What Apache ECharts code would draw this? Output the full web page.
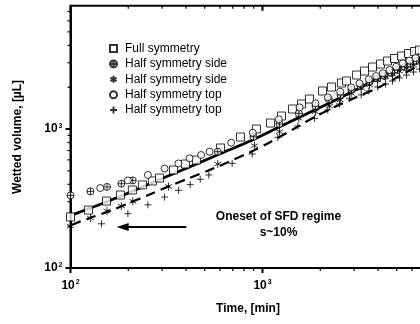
<!DOCTYPE html>
<html><head><meta charset="utf-8">
<script src="https://cdn.jsdelivr.net/npm/echarts@6/dist/echarts.min.js"></script>
<style>html,body{margin:0;padding:0;background:#fff}#c{width:420px;height:324px}</style>
</head><body><div id="c"></div>
<script>
// ---- data (time in min, volume in µL) ----
const fullTime = [100,124,154,182,210,237,267,291,344,397,453,604,768,930,1101,1256,1433,1596,1757,2054,2287,2578,2739,3090,3398,3741,4118,4477,4870,5297,5761,6190,6574];
const fullVol  = [233,261,303,335,364,396,423,444,507,560,598,730,876,1000,1104,1240,1393,1513,1644,1877,2005,2143,2215,2445,2613,2792,2935,3085,3216,3350,3493,3612,3700];

const sideCircTime = [100,127,155,184,211,585,898,1226,1546,1888,2215,2548,2907,3238,3608,3971,4318,4697,5048,5495,5900,6340];
const sideCircVol  = [333,356,383,404,427,687,880,1087,1297,1464,1636,1757,1909,2039,2178,2307,2405,2529,2657,2792,2935,3085];

const sideStarTime = [100,127,155,184,211,324,585,909,1226,1546,1888,2233,2540,2897,3266,3608,3986,4372,4753,5170,5623,6112,6574];
const sideStarVol  = [200,229,257,279,302,386,560,759,957,1194,1332,1464,1617,1806,1963,2073,2252,2366,2487,2613,2746,2886,3034];

const topCircTime = [143,199,253,309,365,417,479,530,687,890,1216,1559,1888,2188,2540,2897,3200,3580,3909,4234,4585,4970,5380,5830,6265];
const topCircVol  = [376,427,467,520,565,615,650,687,797,940,1174,1432,1531,1690,1855,1995,2132,2279,2405,2517,2657,2806,2969,3111,3243];

const topPlusTime = [145,199,253,309,365,420,474,525,695,884,1202,1527,1866,2188,2518,2838,3266,3580,3971,4372,4753,5170,5623,6112,6574];
const topPlusVol  = [208,246,285,324,362,398,435,467,566,661,871,1051,1194,1370,1513,1663,1757,1877,2005,2108,2215,2330,2445,2570,2700];

const solidTime = [104,142,203,291,417,597,887,1383,2233,3200,4585,6574,7000];
const solidVol  = [243,286,349,433,533,661,833,1123,1538,1972,2570,3243,3380];

const dashTime = [101,126,160,203,258,328,417,530,673,856,1088,1468,1866,2371,3013,4064,5170,6574,7000];
const dashVol  = [204,229,257,294,338,389,444,507,584,678,800,1008,1220,1439,1671,2005,2405,2886,3034];

const seriesNames = ['Full symmetry','Half symmetry side','Half symmetry side ','Half symmetry top','Half symmetry top '];
const arrowFrom = [401,197], arrowTo = [187,197];

const X_MIN = 100, X_MAX = 10000, Y_MIN = 100, Y_MAX = 7700;
const xMajorTicks = [100,1000,10000];
const xMinorTicks = [200,300,400,500,600,700,800,900,2000,3000,4000,5000,6000,7000,8000,9000];
const yMajorTicks = [100,1000];
const yMinorTicks = [200,300,400,500,600,700,800,900,2000,3000,4000,5000,6000,7000];

const zip = (a,b) => a.map((v,i)=>[v,b[i]]);
const FONT = 'Liberation Sans, Arial, sans-serif';

const tickData = [];
xMajorTicks.forEach(v=>tickData.push([v,Y_MIN,0,1]));
xMinorTicks.forEach(v=>tickData.push([v,Y_MIN,0,0]));
yMajorTicks.forEach(v=>tickData.push([X_MIN,v,1,1]));
yMinorTicks.forEach(v=>tickData.push([X_MIN,v,1,0]));

const expLabel = v => {
  const e = Math.log10(v);
  if (Math.abs(e - Math.round(e)) > 1e-6) return '';
  return '{a|10}{b|' + Math.round(e) + '}';
};
const richLab = {
  a:{fontSize:12,fontWeight:'bold',fontFamily:FONT,color:'#000'},
  b:{fontSize:7,fontWeight:'bold',fontFamily:FONT,color:'#000',verticalAlign:'top',padding:[0,0,6,1]}
};

const symPlusCirc = 'path://M5,0A5,5,0,1,1,4.999,0ZM0,5L10,5M5,0L5,10';
const symStar = 'path://M5,0L5,10M0.67,2.5L9.33,7.5M0.67,7.5L9.33,2.5';
const symPlus = 'path://M5,0L5,10M0,5L10,5';

const mk = (name, x, y, symbol, size, extra) => Object.assign({
  name, type:'scatter', data: zip(x,y), symbol, symbolSize:size, z:5,
  itemStyle:{color:'#fff', borderColor:'#000', borderWidth:1}
}, extra||{});

const chart = echarts.init(document.getElementById('c'), null, {renderer:'canvas'});
chart.setOption({
  animation:false,
  backgroundColor:'#fff',
  textStyle:{fontFamily:FONT},
  grid:{left:70.5, top:5.8, width:384, height:262.2, outerBoundsMode:'none', containLabel:false,
        show:true, borderColor:'#000', borderWidth:2, backgroundColor:'transparent'},
  legend:{
    orient:'vertical', left:104, top:37.5, itemWidth:7, itemHeight:7, itemGap:3.4,
    data: seriesNames, formatter: n => n.trim(),
    textStyle:{fontSize:12, fontFamily:FONT, color:'#000', lineHeight:12, padding:[0,0,0,3]}
  },
  xAxis:{
    type:'log', logBase:10, min:X_MIN, max:X_MAX,
    axisLine:{lineStyle:{color:'#000', width:2}},
    axisTick:{show:false}, splitLine:{show:false}, minorTick:{show:false},
    axisLabel:{formatter: expLabel, rich: richLab, margin:11, showMaxLabel:false},
    name:'Time, [min]', nameLocation:'middle', nameGap:35,
    nameTextStyle:{fontSize:12, fontWeight:'bold', fontFamily:FONT, color:'#000', padding:[0,29,0,0]}
  },
  yAxis:{
    type:'log', logBase:10, min:Y_MIN, max:Y_MAX,
    axisLine:{lineStyle:{color:'#000', width:2}},
    axisTick:{show:false}, splitLine:{show:false}, minorTick:{show:false},
    axisLabel:{formatter: expLabel, rich: richLab, margin:8},
    name:'Wetted volume, [µL]', nameLocation:'middle', nameGap:47,
    nameTextStyle:{fontSize:12, fontWeight:'bold', fontFamily:FONT, color:'#000'}
  },
  graphic:[{
    type:'text', x:278.5, y:209, z:10,
    style:{text:'Oneset of SFD regime\ns~10%', font:'bold 12px '+FONT, fill:'#000', textAlign:'center', textVerticalAlign:'top', lineHeight:16}
  }],
  series:[
    {name:'fit', type:'line', data:zip(solidTime,solidVol), symbol:'none', smooth:0.3, z:3,
     lineStyle:{color:'#000', width:2.8},
     markLine:{silent:true, symbol:['none','path://M0,10L5,0L10,10Z'], symbolSize:[8,12], label:{show:false},
       lineStyle:{color:'#000', width:2, type:'solid'},
       data:[[{coord:arrowFrom},{coord:arrowTo}]]}},
    {name:'fit2', type:'line', data:zip(dashTime,dashVol), symbol:'none', smooth:0.3, z:3,
     lineStyle:{color:'#000', width:2.2, type:[10,6]}},
    mk(seriesNames[0], fullTime, fullVol, 'rect', 8),
    mk(seriesNames[1], sideCircTime, sideCircVol, symPlusCirc, 7),
    mk(seriesNames[2], sideStarTime, sideStarVol, symStar, 8, {symbolKeepAspect:true}),
    mk(seriesNames[3], topCircTime, topCircVol, 'circle', 7),
    mk(seriesNames[4], topPlusTime, topPlusVol, symPlus, 7),
    {name:'ticks', type:'custom', data:tickData, clip:false, z:10, silent:true,
     encode:{x:0, y:1},
     renderItem:(params, api) => {
       const isY = api.value(2), major = api.value(3);
       const len = major ? 5 : 3, lw = major ? 2 : 1.2;
       const st = {stroke:'#000', lineWidth:lw};
       const p = api.coord([api.value(0), api.value(1)]);
       if (!isY) {
         const q = api.coord([api.value(0), Y_MAX]);
         return {type:'group', children:[
           {type:'line', shape:{x1:p[0],y1:p[1],x2:p[0],y2:p[1]+len}, style:st},
           {type:'line', shape:{x1:q[0],y1:q[1],x2:q[0],y2:q[1]+len}, style:st}
         ]};
       }
       return {type:'line', shape:{x1:p[0],y1:p[1],x2:p[0]-len,y2:p[1]}, style:st};
     }}
  ]
});
</script></body></html>
